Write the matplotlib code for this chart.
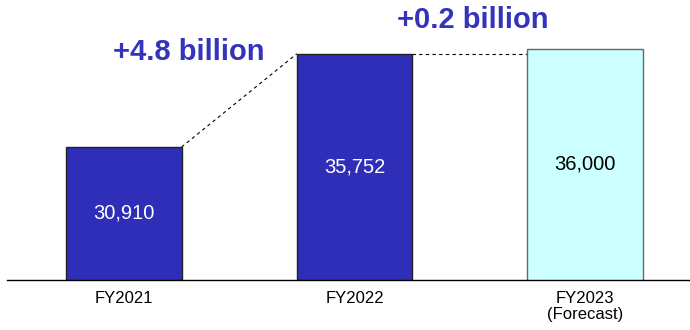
import matplotlib
matplotlib.use("Agg")
import matplotlib.pyplot as plt

plt.rcParams['font.family'] = ['Liberation Sans', 'DejaVu Sans']

# data
categories = ["FY2021", "FY2022", "FY2023\n(Forecast)"]
values = [30910, 35752, 36000]
value_labels = ["30,910", "35,752", "36,000"]
diff_labels = ["+4.8 billion", "+0.2 billion"]

bar_colors = ["#2E2EB8", "#2E2EB8", "#CCFFFF"]
edge_colors = ["#222222", "#222222", "#666666"]
text_colors = ["white", "white", "black"]
accent = "#3333BB"

fig = plt.figure(figsize=(6.9, 3.3), dpi=100)
ax = fig.add_axes([0.01, 0.1515, 0.99, 0.8485])

x = list(range(len(categories)))
width = 0.5
bars = ax.bar(x, values, width=width, color=bar_colors, edgecolor=edge_colors, linewidth=1.0, zorder=2)

ax.set_xlim(-0.508, 2.456)
ax.set_ylim(24000, 38545)

# value labels inside the bars
for i, v in enumerate(values):
    ax.text(x[i], 24000 + (v - 24000) * 0.5, value_labels[i], ha="center", va="center",
            fontsize=14.5, color=text_colors[i])

# dashed connectors
ax.plot([x[0] + width / 2, x[1] - width / 2], [values[0], values[1]],
        ls=(0, (3, 3)), color="black", lw=0.8, zorder=1)
ax.plot([x[1] + width / 2, x[2] - width / 2], [values[1], values[1]],
        ls=(0, (3, 3)), color="black", lw=0.8, zorder=1)

# difference labels
ax.text(0.28, 35844, diff_labels[0], ha="center", va="center", fontsize=21,
        fontweight="bold", color=accent)
ax.text(1.514, 37506, diff_labels[1], ha="center", va="center", fontsize=21,
        fontweight="bold", color=accent)

ax.set_xticks(x)
ax.set_xticklabels(categories, fontsize=12, linespacing=1.05)
ax.tick_params(axis="x", length=0, pad=8)
ax.set_yticks([])
for s in ["left", "right", "top"]:
    ax.spines[s].set_visible(False)
ax.spines["bottom"].set_color("black")
ax.spines["bottom"].set_linewidth(1.0)

fig.savefig("out.png", dpi=100)
